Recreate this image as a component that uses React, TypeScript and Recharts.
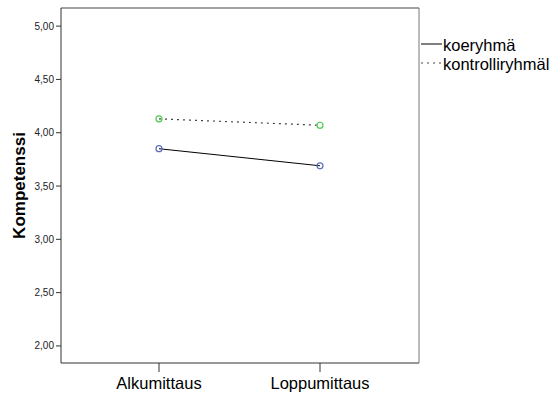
import { LineChart, Line, XAxis, YAxis } from "recharts";

const categories = ["Alkumittaus", "Loppumittaus"];
const koeryhma = [3.85, 3.69];
const kontrolliryhma = [4.13, 4.07];
const yTicks = [2, 2.5, 3, 3.5, 4, 4.5, 5];

const data = categories.map((name, i) => ({
  name,
  koe: koeryhma[i],
  kontrolli: kontrolliryhma[i],
}));

const font = "'Liberation Sans', Arial, sans-serif";
const yDomain: [number, number] = [1.84, 5.17];

const fmt = (v: number) => v.toFixed(2).replace(".", ",");

export default function App() {
  return (
    <div style={{ position: "absolute", left: 0, top: 0, width: 556, height: 399, fontFamily: font, overflow: "hidden" }}>
      <LineChart
        width={556}
        height={399}
        data={data}
        margin={{ top: 7, right: 136, bottom: 0, left: 0 }}
      >
        <XAxis
          dataKey="name"
          height={36}
          padding={{ left: 98, right: 99 }}
          stroke="#333"
          tickSize={9}
          tick={{ fill: "#000", fontSize: 16.5, fontFamily: font, dy: 3 }}
        />
        <XAxis xAxisId="top" orientation="top" dataKey="name" height={1} tick={false} tickLine={false} stroke="#444" />
        <YAxis
          domain={yDomain}
          ticks={yTicks}
          width={61}
          stroke="#333"
          tickSize={5}
          tickFormatter={fmt}
          tick={{ fill: "#222", fontSize: 10, fontFamily: font }}
          label={{
            value: "Kompetenssi",
            angle: -90,
            position: "insideLeft",
            offset: 19,
            style: { fontSize: 17, fontWeight: "bold", fill: "#000", fontFamily: font, textAnchor: "middle" },
          }}
        />
        <YAxis yAxisId="right" orientation="right" width={1} tick={false} tickLine={false} stroke="#777" domain={yDomain} />
        <Line
          dataKey="koe"
          stroke="#000"
          strokeWidth={1}
          isAnimationActive={false}
          dot={{ r: 3, stroke: "#5b6fc0", strokeWidth: 1.2, fill: "none", strokeDasharray: "0" }}
          activeDot={false}
        />
        <Line
          dataKey="kontrolli"
          stroke="#444"
          strokeWidth={1.2}
          strokeDasharray="2 4"
          isAnimationActive={false}
          dot={{ r: 3, stroke: "#4ccc4c", strokeWidth: 1.2, fill: "none", strokeDasharray: "0" }}
          activeDot={false}
        />
      </LineChart>
      <svg style={{ position: "absolute", left: 419, top: 34 }} width={137} height={45}>
        <line x1={2} x2={23} y1={10} y2={10} stroke="#000" />
        <text x={24} y={17} fontSize={16.5} fontFamily={font} fill="#000">koeryhmä</text>
        <line x1={2} x2={23} y1={29} y2={29} stroke="#444" strokeDasharray="2 4" />
        <text x={24} y={36} fontSize={16.5} fontFamily={font} fill="#000">kontrolliryhmäl</text>
      </svg>
    </div>
  );
}
